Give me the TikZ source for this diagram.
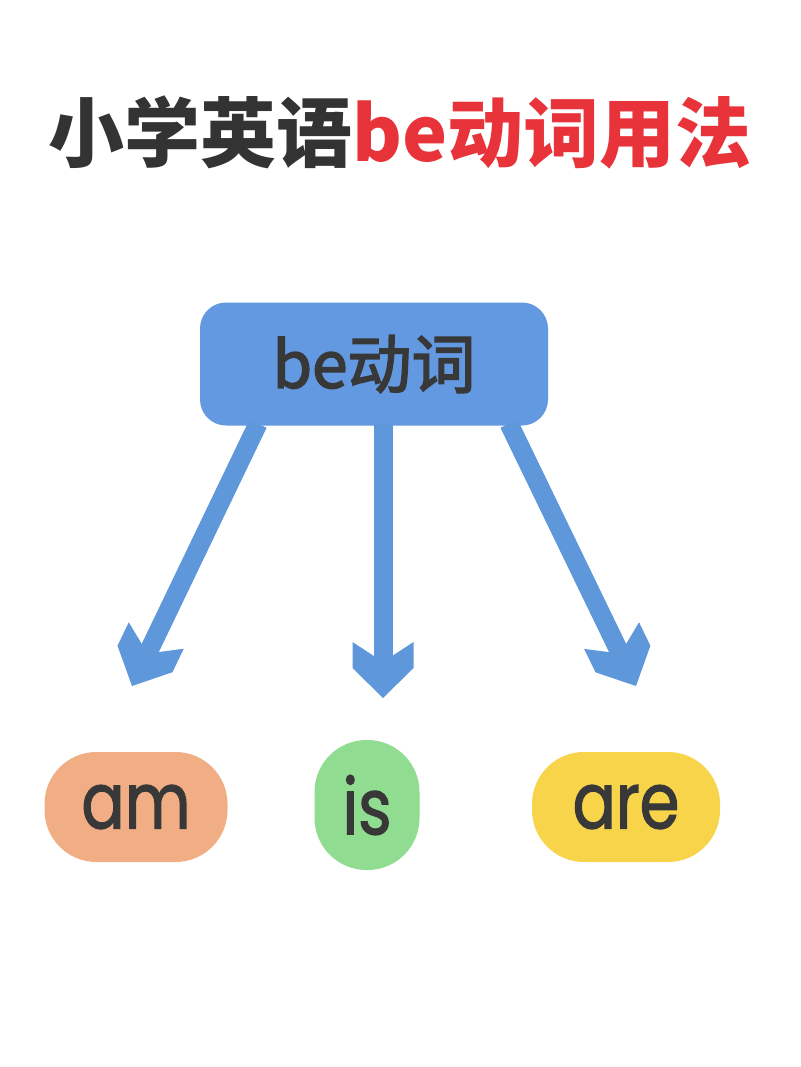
\documentclass[tikz,border=0pt]{standalone}
\usepackage{fontspec}
\usetikzlibrary{arrows.meta}
\newfontfamily\cjk{Noto Sans CJK SC}
\newfontfamily\cjkmed{Noto Sans CJK SC}[FakeBold=2.5]
\newfontfamily\popp{Poppins}[FakeStretch=0.82, FakeBold=1.5]
\definecolor{tdark}{HTML}{333333}
\definecolor{tred}{HTML}{E8333A}
\definecolor{bblue}{HTML}{6399E0}
\definecolor{ablue}{HTML}{5F98DA}
\definecolor{cam}{HTML}{F1AE85}
\definecolor{cis}{HTML}{90DC90}
\definecolor{care}{HTML}{F8D44B}
\definecolor{txt}{HTML}{383838}
\pgfdeclarearrow{
  name = Chev,
  parameters = {\the\pgfarrowlength},
  setup code = {
    \pgfarrowssettipend{0pt}
    \pgfarrowssetlineend{-32pt}
    \pgfarrowssetbackend{-56pt}
    \pgfarrowssetvisualbackend{-36pt}
    \pgfarrowsupperhullpoint{0pt}{0pt}
    \pgfarrowsupperhullpoint{-56pt}{30.5pt}
  },
  drawing code = {
    \pgfpathmoveto{\pgfpoint{0pt}{0pt}}
    \pgfpathlineto{\pgfpoint{-30pt}{30.5pt}}
    \pgfpathlineto{\pgfpoint{-56pt}{30.5pt}}
    \pgfpathlineto{\pgfpoint{-36pt}{0pt}}
    \pgfpathlineto{\pgfpoint{-56pt}{-30.5pt}}
    \pgfpathlineto{\pgfpoint{-30pt}{-30.5pt}}
    \pgfpathclose
    \pgfusepathqfill
  },
}
\tikzset{
  pill/.style={fill=#1, rounded corners=52pt, text=txt, inner sep=0pt,
    font=\popp\fontsize{78}{84}\selectfont},
  arr/.style={draw=ablue, line width=19pt, -{Chev}},
}
\begin{document}
\begin{tikzpicture}[x=1pt,y=-1pt]
\useasboundingbox (0,0) rectangle (800,1067);
\fill[white] (0,0) rectangle (800,1067);
\node[font=\cjk\bfseries\fontsize{76}{80}\selectfont, inner sep=0pt] (title) at (400,132)
  {\textcolor{tdark}{小学英语}\textcolor{tred}{be动词用法}};
\node[fill=bblue, rounded corners=26pt, minimum width=348pt, minimum height=123pt,
  text=txt, font=\cjkmed\fontsize{64}{70}\selectfont, inner sep=0pt] (box) at (374,364) {be动词};
\node[pill=cam, minimum width=183pt, minimum height=110pt] (am) at (136,807) {am};
\node[pill=cis, minimum width=105pt, minimum height=130pt] (is) at (367,805) {is};
\node[pill=care, minimum width=188pt, minimum height=110pt] (are) at (626,807) {are};
\coordinate (t1) at (132,686);
\coordinate (t2) at (383,698);
\coordinate (t3) at (636,686);
\draw[arr] ([xshift=-116pt,yshift=2pt]box.south) -- (t1);
\draw[arr] ([xshift=9pt,yshift=2pt]box.south) -- (t2);
\draw[arr] ([xshift=135pt,yshift=2pt]box.south) -- (t3);
\end{tikzpicture}
\end{document}
